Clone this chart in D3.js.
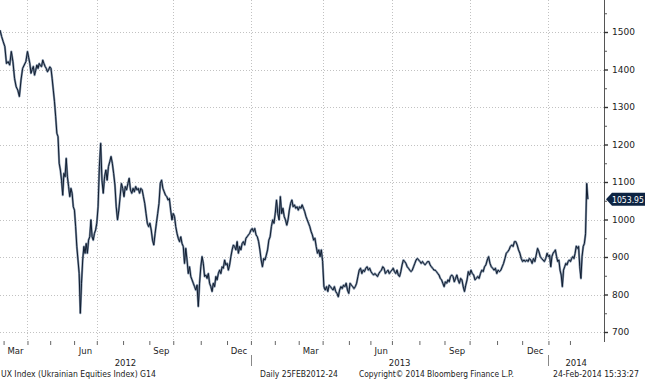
<!DOCTYPE html>
<html>
<head>
<meta charset="utf-8">
<script src="https://cdn.jsdelivr.net/npm/d3@7"></script>
<style>
  body { margin: 0; background: #fff; }
  svg { display: block; font-family: "DejaVu Sans", Tahoma, sans-serif; }
</style>
</head>
<body>
<div id="chart"></div>
<script>
// UX index daily, 25 Feb 2012 - 24 Feb 2014 (one array per quarter)
const startDate = "2012-02-27";
const endDate = "2014-02-24";
const holidays = ["2012-03-08","2012-03-09","2012-04-16","2012-04-30","2012-05-01","2012-05-02","2012-05-09",
  "2012-06-04","2012-06-28","2012-08-24","2012-12-31","2013-01-01","2013-01-02","2013-01-07","2013-03-08",
  "2013-05-01","2013-05-02","2013-05-03","2013-05-06","2013-05-09","2013-06-24","2013-06-28","2013-08-26",
  "2014-01-01","2014-01-02","2014-01-03","2014-01-06","2014-01-07"];
const quarterStarts = ["2012-02-27","2012-04-01","2012-07-01","2012-10-01","2013-01-01","2013-04-01","2013-07-01","2013-10-01","2014-01-01"];

const q1_2012 = [1505,1488,1474,1461,1416,1421,1412,1448,1421,1376,1354,1345,1328,1372,1403,1412,1421];
const q2_2012 = [1448,1432,1416,1390,1400,1408,1385,1398,1412,1403,1416,1410,1408,1425,1416,1408,1403,1394,1399,1407,1403,
  1376,1345,1314,1274,1230,1221,1150,1132,1105,1065,1123,1114,1163,1114,1088,1061,1083,1070,1034,1025,981,928,892,856,750,
  830,892,928,910,936,910,945,954,999,954,945,963,972];
const q3_2012 = [990,1034,1141,1203,1105,1070,1114,1132,1105,1141,1154,1168,1150,1123,1092,1034,999,1025,1061,1096,1083,
  1061,1088,1079,1096,1110,1079,1070,1083,1074,1088,1079,1083,1070,1083,1079,1061,1043,1016,990,981,990,972,945,932,963,
  990,1016,1043,1096,1105,1083,1074,1065,1061,1052,1056,1025,999];
const q4_2012 = [1016,1008,981,963,950,941,954,936,928,883,923,892,856,874,848,839,830,821,812,825,768,830,874,901,883,
  848,852,843,856,830,821,808,830,821,848,839,856,865,856,874,870,892,879,883,865,879,901,919,932,928,919,941,910,928,
  919,936,941,932,950,954,959,963];
const q1_2013 = [972,976,968,976,959,954,941,919,892,874,896,892,905,919,945,954,981,999,990,1016,1052,1016,999,1061,1016,
  1030,1008,999,985,999,1025,1043,1052,1034,1039,1030,1034,1025,1034,1030,1039,1030,1021,1008,999,990,981,968,959,945,
  950,928,910,919,901,919];
const q2_2013 = [888,821,812,821,808,825,821,816,812,821,808,803,794,812,821,816,825,821,830,812,803,830,825,821,816,821,
  830,848,865,870,856,865,861,870,874,865,870,861,856,852,856,852,848,856,861,865,874,870,856,861,865,856,861];
const q3_2013 = [865,870,861,856,865,852,848,861,879,892,888,883,874,870,865,861,865,874,883,892,896,892,888,883,888,883,
  879,883,888,888,879,874,870,865,865,861,856,852,843,839,830,821,834,830,839,834,848,852,848,834,843,852,839,830,843,
  839,821,808,825,839,861];
const q4_2013 = [852,865,856,852,839,843,848,843,856,865,861,874,879,892,901,883,874,870,865,870,856,865,861,865,874,883,
  896,910,914,919,928,932,928,941,941,932,919,910,896,888,892,888,892,888,896,892,883,896,888,905,923,914,901,896,892,
  888,896,910];
const q1_2014 = [901,905,874,901,910,914,919,901,888,892,865,852,821,865,874,883,879,888,892,888,896,901,896,910,929,923,
  928,874,843,901,928,936,962,1096,1053.95];

const yTicks = [700,800,900,1000,1100,1200,1300,1400,1500];
const yMinor = [750,850,950,1050,1150,1250,1350,1450,1550];
const labelMonths = [2,5,8,11];           // Mar, Jun, Sep, Dec
const years = ["2012","2013","2014"];
const lastValue = 1053.95;
const footer = ["UX Index (Ukrainian Equities Index) G14","Daily 25FEB2012-24","Copyright\u00a9 2014 Bloomberg Finance L.P.","24-Feb-2014 15:33:27"];

const W = 645, H = 380;
const plotRight = 604, plotBottom = 342;

// trading-day calendar, the x axis runs on it like the terminal does
const parse = d3.utcParse("%Y-%m-%d");
const fmt = d3.utcFormat("%Y-%m-%d");
const hol = new Set(holidays);
const days = d3.utcDay.range(parse(startDate), d3.utcDay.offset(parse(endDate), 1))
  .filter(d => d.getUTCDay() % 6 !== 0 && !hol.has(fmt(d)));
const idxOf = date => d3.bisectLeft(days, date);

const quarters = [q1_2012,q2_2012,q3_2012,q4_2012,q1_2013,q2_2013,q3_2013,q4_2013,q1_2014];
const series = [];
quarters.forEach((vals, k) => {
  const s = idxOf(parse(quarterStarts[k]));
  const last = k === quarters.length - 1;
  const e = last ? days.length - 1 : idxOf(parse(quarterStarts[k + 1]));
  const step = (e - s) / (last ? vals.length - 1 : vals.length);
  vals.forEach((v, j) => series.push({ i: s + j * step, v: v }));
});

const x = d3.scaleLinear().domain([0, days.length - 1 + 13.5]).range([0, plotRight]);
const y = d3.scaleLinear().domain([700, 1500]).range([332, 32]);

const svg = d3.select("#chart").append("svg").attr("width", W).attr("height", H);

// squeeze a text horizontally (Tahoma is narrower than what we have)
function fitText(sel, px, py, width) {
  sel.each(function (d, i) {
    const k = Math.min(1, width(d, i) / this.getComputedTextLength());
    d3.select(this).attr("transform", `translate(${px(d, i)},${py(d, i)}) scale(${k},1)`);
  });
}

// grid
const grid = svg.append("g").attr("stroke", "#c2c2c2").attr("stroke-dasharray", "1,2").attr("shape-rendering", "crispEdges");
grid.selectAll(".hg").data(yTicks).join("line")
  .attr("x1", 0).attr("x2", plotRight)
  .attr("y1", d => Math.round(y(d)) + 0.5).attr("y2", d => Math.round(y(d)) + 0.5);

const months = d3.utcMonth.range(parse("2012-03-01"), parse("2014-03-01"));
const qLines = months.filter(m => m.getUTCMonth() % 3 === 0);
grid.selectAll(".vg").data(qLines).join("line")
  .attr("x1", d => Math.round(x(idxOf(d))) + 0.5).attr("x2", d => Math.round(x(idxOf(d))) + 0.5)
  .attr("y1", 0).attr("y2", plotBottom);

// price line
const line = d3.line().x(d => x(d.i)).y(d => y(d.v));
svg.append("path").datum(series).attr("d", line)
  .attr("fill", "none").attr("stroke", "#8494a9").attr("stroke-width", 2.2).attr("stroke-linejoin", "round");
svg.append("path").datum(series).attr("d", line)
  .attr("fill", "none").attr("stroke", "#101d30").attr("stroke-width", 1).attr("stroke-linejoin", "round");

// right axis
svg.append("line").attr("x1", plotRight + 0.5).attr("x2", plotRight + 0.5).attr("y1", 0).attr("y2", plotBottom)
  .attr("stroke", "#555");
const yAxis = svg.append("g").attr("transform", `translate(${plotRight},0)`)
  .call(d3.axisRight(y).tickValues(yTicks).tickSize(4).tickPadding(4).tickFormat(d3.format("d")));
yAxis.select(".domain").remove();
yAxis.selectAll("line").attr("stroke", "#333").attr("stroke-width", 1.4);
yAxis.selectAll("text").attr("font-size", 9).attr("fill", "#222").attr("font-family", "DejaVu Sans, sans-serif");
const yMin = svg.append("g").attr("transform", `translate(${plotRight},0)`)
  .call(d3.axisRight(y).tickValues(yMinor).tickSize(3).tickFormat(""));
yMin.select(".domain").remove();
yMin.selectAll("line").attr("stroke", "#555");

// last value tag
const yc = y(lastValue);
svg.append("path")
  .attr("d", `M${plotRight + 2},${yc}L${plotRight + 8},${yc - 6.5}H${W}V${yc + 6.5}H${plotRight + 8}Z`)
  .attr("fill", "#0d2443");
svg.append("text").text(d3.format(".2f")(lastValue))
  .attr("fill", "#fff").attr("font-size", 9)
  .call(fitText, () => plotRight + 8, () => yc + 3.3, () => 32);

// bottom axis
const xAxis = svg.append("g").attr("transform", `translate(0,${plotBottom - 1})`)
  .call(d3.axisBottom(x).tickValues(months.map(idxOf)).tickSize(4).tickFormat(""));
xAxis.select(".domain").remove();
xAxis.selectAll("line").attr("stroke", "#666");

const monthFmt = d3.utcFormat("%b");
svg.append("g").selectAll("text")
  .data(months.filter(m => labelMonths.includes(m.getUTCMonth())))
  .join("text")
  .attr("x", d => (x(idxOf(d)) + x(idxOf(d3.utcMonth.offset(d, 1)))) / 2)
  .attr("y", 354).attr("text-anchor", "middle").attr("font-size", 8.5).attr("fill", "#222")
  .text(d => monthFmt(d));

const yearEdges = [0, idxOf(parse("2013-01-01")), idxOf(parse("2014-01-01")), x.domain()[1]];
svg.append("g").selectAll("text").data(years).join("text")
  .attr("x", (d, i) => (x(yearEdges[i]) + x(yearEdges[i + 1])) / 2)
  .attr("y", 366).attr("text-anchor", "middle").attr("font-size", 8.5).attr("fill", "#222")
  .text(d => d);
svg.append("g").selectAll("line").data(yearEdges.slice(1, 3)).join("line")
  .attr("x1", d => Math.round(x(d)) + 0.5).attr("x2", d => Math.round(x(d)) + 0.5)
  .attr("y1", 355).attr("y2", 366).attr("stroke", "#888");

// footer
const footX = [1, 260, 359, 553];
const footW = [155, 78, 155, 86];
svg.append("g").selectAll("text").data(footer).join("text")
  .attr("font-size", 8.5).attr("fill", "#222")
  .text(d => d)
  .call(fitText, (d, i) => footX[i], () => 377, (d, i) => footW[i]);
</script>
</body>
</html>
